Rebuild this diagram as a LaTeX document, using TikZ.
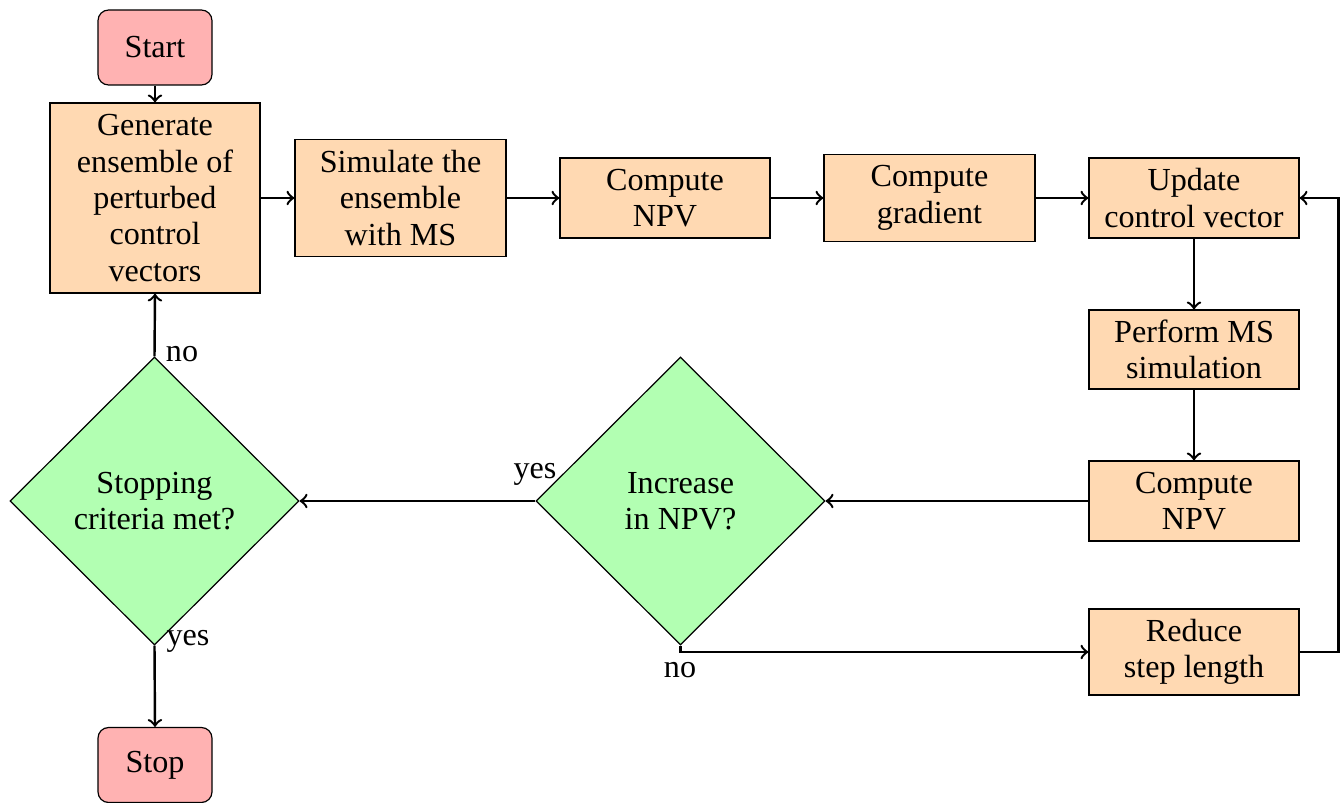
\documentclass[tikz,border=0pt]{standalone}
\usepackage{fontspec}
\setmainfont{Liberation Serif}
\usetikzlibrary{shapes.geometric}
\begin{document}
\begin{tikzpicture}[x=0.33pt,y=-0.33pt,
  every node/.style={font=\fontsize{10.6}{12}\selectfont},
  startstop/.style={draw, rounded corners=3.5pt, fill=red!30, minimum width=114*0.33pt, minimum height=75*0.33pt, inner sep=0pt},
  process/.style={draw, fill=orange!30, align=center, minimum width=210*0.33pt, inner sep=0pt},
  decision/.style={draw, diamond, fill=green!30, align=center, minimum width=289*0.33pt, minimum height=288*0.33pt, inner sep=0pt},
  flow/.style={thick, ->},
  lbl/.style={inner sep=0pt}]
\useasboundingbox (0,0) rectangle (1340,803);

% terminals
\node[startstop] (start) at (155,47.5) {Start};
\node[startstop] (stop) at (155,765) {Stop};

% top row
\node[process, minimum height=190*0.33pt] (gen) at (155,198) {Generate\\ensemble of\\perturbed\\control\\vectors};
\node[process, minimum width=211*0.33pt, minimum height=117*0.33pt] (sim) at (400.5,198) {Simulate the\\ensemble\\with MS};
\node[process, minimum height=80*0.33pt] (npv) at (665,198) {Compute\\NPV};
\node[process, minimum width=211*0.33pt, minimum height=87*0.33pt] (grad) at (929.5,198) {Compute\\gradient};
\node[process, minimum height=80*0.33pt] (upd) at (1194,198) {Update\\control vector};

% right column
\node[process, minimum height=79*0.33pt] (ms) at (1194,349.5) {Perform MS\\simulation};
\node[process, minimum height=80*0.33pt] (npv2) at (1194,501) {Compute\\NPV};
\node[process, minimum height=86*0.33pt] (red) at (1194,652) {Reduce\\step length};

% decisions
\node[decision] (inc) at (680.5,501) {Increase\\in NPV?};
\node[decision] (crit) at (154.5,501) {Stopping\\criteria met?};

% connectors
\draw[flow] (start) -- (gen);
\draw[flow] (gen) -- (sim);
\draw[flow] (sim) -- (npv);
\draw[flow] (npv) -- (grad);
\draw[flow] (grad) -- (upd);
\draw[flow] (upd) -- (ms);
\draw[flow] (ms) -- (npv2);
\draw[flow] (npv2) -- (inc);
\draw[flow] (inc) -- (crit);
\draw[flow] (inc.south) |- (red.west);
\draw[flow] (red.east) -- ++(39,0) |- (upd.east);
\draw[flow] (crit.north) -- (gen.south);
\draw[flow] (crit.south) -- (stop.north);

% branch labels
\node[lbl] (critno) at (182,354) {no};
\node[lbl] (crityes) at (188,641) {yes};
\node[lbl] (incyes) at (535,474) {yes};
\node[lbl] (incno) at (680,670) {no};
\end{tikzpicture}
\end{document}
